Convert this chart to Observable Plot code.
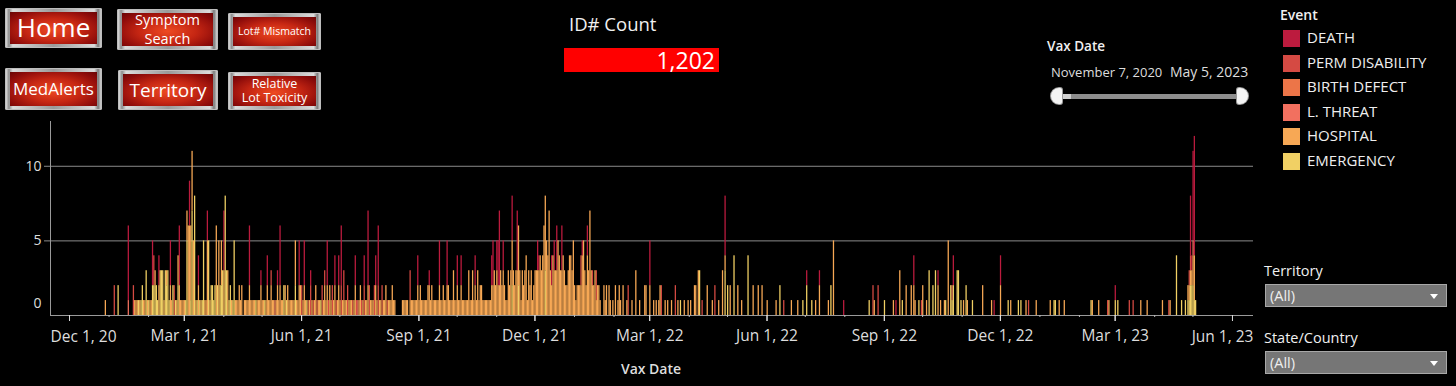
<!DOCTYPE html>
<html><head><meta charset="utf-8">
<script src="https://cdn.jsdelivr.net/npm/d3@7"></script>
<script src="https://cdn.jsdelivr.net/npm/@observablehq/plot@0.6"></script>
<style>
html,body{margin:0;padding:0;background:#000}
body{width:1456px;height:386px;overflow:hidden;font-family:"Open Sans",sans-serif;color:#eee}
#wrap{position:relative;width:1456px;height:386px}
#chart{position:absolute;left:0;top:0}
#chart svg{overflow:visible}
.t{position:absolute;white-space:nowrap}
.btn{position:absolute;box-sizing:border-box;padding:4px 5px;border-radius:2px;
 background:linear-gradient(90deg,#f6f6f6 0%,#8c8c8c 4%,#dcdcdc 8%,#9a9a9a 50%,#dcdcdc 92%,#7a7a7a 96%,#efefef 100%);
 box-shadow:inset 0 0 0 1px #bdbdbd}
.btn .in{width:100%;height:100%;box-sizing:border-box;display:flex;align-items:center;justify-content:center;text-align:center;color:#fff;line-height:1.3;
 background:radial-gradient(ellipse at 50% 55%,#ee4a22 0%,#c52613 45%,#8e0c0a 80%,#6a0606 100%);font-family:"Open Sans",sans-serif}
.sw{position:absolute;width:17px;height:17px}
.lg{position:absolute;font-size:15px;color:#eee;left:1307px;font-family:"Open Sans",sans-serif}
.dd{position:absolute;left:1265px;width:182px;height:23px;box-sizing:border-box;background:#767676;border:1px solid #a8a8a8;color:#eee;font-size:14.5px;line-height:21px;padding-left:4px}
.dd .ar{position:absolute;right:8px;top:9px;width:0;height:0;border-left:4px solid transparent;border-right:4px solid transparent;border-top:5px solid #fff}
</style>
</head><body><div id="wrap"></div>
<script>
// ---------- data ----------
// Day offsets are days after Dec 1, 2020; each pair is [day offset, number of reports].
const events = ["DEATH","PERM DISABILITY","BIRTH DEFECT","L. THREAT","HOSPITAL","EMERGENCY"];
const eventColors = ["#bc1b3e","#d54a43","#ec7548","#f2705f","#f7a855","#f1d064"];
const stackOrder = ["EMERGENCY","HOSPITAL","L. THREAT","BIRTH DEFECT","PERM DISABILITY","DEATH"];

const death = [[46,5],[65,3],[70,2],[79,3],[86,4],[94,3],[101,2],[108,2],[121,4],[141,4],[150,1],[155,2],[163,1],[165,4],[180,3],[184,3],[189,1],[202,3],[208,2],[211,2],[213,4],[224,2],[231,2],[234,5],[240,2],[242,4],[273,2],[282,1],[290,3],[296,3],[304,2],[307,2],[318,2],[331,2],[332,3],[335,2],[336,3],[337,5],[340,2],[347,3],[351,4],[367,2],[368,1],[378,2],[380,2],[382,3],[386,3],[402,1],[406,2],[455,3],[514,4],[578,1],[588,1],[607,1],[648,1],[662,2],[681,1],[693,2],[725,1],[730,2],[820,1],[879,4],[880,1],[881,6],[882,8]];

const permDisability = [[35,2],[50,2],[66,2],[82,2],[158,1],[182,2],[187,1],[189,2],[191,1],[194,1],[198,2],[200,1],[203,1],[206,2],[209,1],[213,2],[215,2],[218,2],[222,1],[225,1],[229,1],[231,2],[235,2],[239,2],[242,2],[245,2],[249,1],[267,2],[401,2],[410,1],[413,2],[438,2],[464,2],[475,2],[496,1],[506,2],[560,1],[630,2],[634,2],[668,1],[692,1],[752,1],[814,1],[831,1],[834,1],[862,1],[878,1],[879,1]];

const birthDefect = [];

const lifeThreat = [[46,1],[161,1],[226,1],[881,1]];

const hospital = [[28,1],[51,1],[52,1],[53,1],[55,1],[58,1],[59,1],[61,1],[63,1],[64,1],[67,1],[70,2],[74,1],[76,1],[79,2],[80,1],[84,1],[85,2],[86,2],[87,1],[88,1],[89,1],[90,1],[92,2],[93,6],[94,6],[95,5],[96,4],[97,5],[99,1],[101,2],[103,1],[106,1],[107,1],[108,5],[110,1],[115,6],[117,5],[119,3],[121,3],[124,3],[127,1],[130,1],[131,1],[132,1],[133,2],[134,1],[135,2],
[137,1],[138,1],[139,1],[140,1],[141,2],[142,1],[143,1],[144,1],[145,1],[147,1],[148,1],[149,1],[150,2],[151,1],[152,1],[154,1],[155,2],[156,1],[157,1],[158,2],[159,1],[160,1],[162,1],[163,2],[164,1],[165,2],[166,1],[167,1],[169,2],[171,2],[172,1],[173,1],[174,1],[175,1],[176,1],[177,3],[178,1],[179,1],[180,2],[181,2],[183,1],[184,2],[185,1],[188,1],[190,1],[192,1],[193,2],[195,1],[196,1],[199,1],[200,2],[201,1],[202,2],[204,2],[205,1],[207,1],[208,2],[210,1],[211,2],[212,1],[214,1],[215,1],[216,1],[217,1],[219,1],[220,1],[221,1],[223,1],[224,2],[227,1],[228,2],[230,1],[232,1],[233,1],[234,2],[236,1],[237,1],[238,1],[240,2],[241,1],[243,1],[244,1],[246,1],[247,1],[248,2],[250,1],[251,1],[252,1],[253,2],[254,1],[255,1],
[261,1],[262,1],[263,1],[264,1],[265,1],[267,1],[268,1],[269,1],[270,1],[271,1],[272,1],[273,2],[274,1],[275,2],[276,1],[277,1],[278,1],[279,1],[280,1],[281,2],[282,2],[283,1],[284,2],[285,1],[286,1],[287,1],[288,1],[289,1],[290,2],[291,1],[292,1],[293,2],[294,1],[295,1],[296,2],[297,2],[298,1],[299,1],[300,1],[301,3],[302,1],[303,1],[304,2],[305,1],[306,1],[307,2],[308,1],[309,1],[310,1],[311,1],[312,1],[313,3],[314,1],[315,1],[316,3],[317,1],[318,2],[319,1],[320,3],[321,1],[322,2],[323,2],[324,1],[325,1],[326,1],[327,1],[328,1],[329,1],[330,1],
[331,2],[332,2],[333,3],[334,2],[335,3],[336,2],[337,2],[338,3],[339,2],[340,3],[341,2],[342,1],[343,1],[344,3],[345,2],[346,3],[347,3],[348,3],[349,2],[350,3],[351,3],[352,4],[353,3],[354,1],[355,3],[356,2],[357,3],[358,4],[359,1],[360,3],[361,2],[362,3],[363,1],[364,2],[365,3],[366,3],[367,3],[368,3],[369,4],[370,3],[371,4],[372,6],[373,5],[374,5],[375,4],[376,7],[377,3],[378,2],[379,4],[380,3],[381,3],[382,3],[383,5],[384,4],[385,3],[386,3],[387,4],[388,3],[389,2],[390,2],[391,3],[392,4],[393,4],[394,3],[395,5],[396,2],[397,1],[398,2],[399,2],[400,2],[401,2],[402,4],[403,5],[404,3],[405,2],[406,4],[407,3],[408,7],[409,3],[410,2],[411,2],[412,3],[413,1],[414,2],[415,2],[416,1],
[419,2],[420,1],[421,2],[423,2],[424,1],[426,1],[428,2],[430,1],[431,2],[432,1],[434,2],[437,1],[441,1],[444,3],[447,1],[451,2],[452,2],[455,2],[458,1],[460,1],[462,1],[463,2],[467,1],[469,1],[472,1],[477,1],[482,1],[485,1],[487,1],[490,2],[491,2],[493,3],[500,2],[504,1],[509,1],[512,3],[514,1],[518,2],[524,2],[527,1],[536,2],[540,2],[543,2],[547,1],[554,1],[566,1],[571,1],
[585,1],[588,2],[595,1],[599,5],[631,1],[646,1],[651,3],[656,2],[660,2],[662,2],[663,1],[669,2],[672,1],[681,2],[683,1],[686,1],[689,5],[701,1],[704,1],[716,2],[723,1],[730,2],[738,1],[750,1],[758,1],[769,1],[776,1],[780,1],[802,1],[807,1],[815,1],[840,1],[845,1],[857,1],[863,1],[877,1],[878,1],[879,1],[880,1],[881,2],[882,3]];

const emergency = [[38,2],[54,1],[56,1],[57,2],[60,3],[62,1],[65,2],[66,2],[67,2],[68,2],[69,1],[71,3],[72,3],[73,3],[75,3],[76,2],[77,3],[78,1],[81,2],[83,1],[85,2],[91,1],[92,5],[95,1],[96,7],[98,8],[100,1],[102,1],[104,1],[105,5],[109,5],[111,2],[112,2],[113,1],[114,2],[116,2],[118,2],[119,2],[120,3],[122,8],[123,3],[125,1],[126,2],[128,1],[129,5],[146,1],[153,1],[168,2],[170,1],[177,2],[186,1],[197,1],[347,2],[352,2],[373,3],[479,1],[494,3],[514,3],[516,2],[521,4],[532,4],[557,2],[575,1],[578,2],[582,1],[597,2],[627,1],[639,1],[653,1],[666,1],[674,3],[677,2],[679,3],[687,1],[691,2],[692,1],[693,2],[696,3],[697,3],[699,1],[703,2],[708,1],[736,1],[744,1],[746,1],[772,1],[773,1],[801,1],[820,1],[822,1],[868,4],[872,1],[875,1],[877,1],[878,1],[879,2],[880,2],[881,2],[882,1],[883,1]];

const yTicks = [5, 10];
const majorTickDates = ["2020-12-01","2021-03-01","2021-06-01","2021-09-01","2021-12-01","2022-03-01","2022-06-01","2022-09-01","2022-12-01","2023-03-01","2023-06-01"];
const majorTickLabels = ["Dec 1, 20","Mar 1, 21","Jun 1, 21","Sep 1, 21","Dec 1, 21","Mar 1, 22","Jun 1, 22","Sep 1, 22","Dec 1, 22","Mar 1, 23","Jun 1, 23"];
const idCount = "1,202";

// ---------- build table ----------
const DAY = 864e5;
const origin = Date.UTC(2020, 11, 1);
const seriesByEvent = {"DEATH": death, "PERM DISABILITY": permDisability, "BIRTH DEFECT": birthDefect, "L. THREAT": lifeThreat, "HOSPITAL": hospital, "EMERGENCY": emergency};
const rows = [];
for (const ev of events) for (const [d, n] of seriesByEvent[ev]) rows.push({event: ev, d1: new Date(origin + d * DAY), d2: new Date(origin + (d + 1) * DAY), count: n});

const majors = majorTickDates.map(s => new Date(s + "T00:00:00Z"));
const labelOf = new Map(majors.map((d, i) => [+d, majorTickLabels[i]]));
const minors = d3.utcMonths(new Date("2020-12-01T00:00:00Z"), new Date("2023-06-02T00:00:00Z")).filter(d => !labelOf.has(+d));
const xDomain = [new Date(Date.UTC(2020, 10, 16, 2)), new Date(Date.UTC(2023, 5, 17, 12))];
const tickFont = 15.5;
const firstTick = majors[0], lastTick = majors[majors.length - 1];

const chart = Plot.plot({
  width: 1260, height: 386,
  marginLeft: 50, marginRight: 7, marginTop: 121, marginBottom: 71,
  style: {background: "transparent", color: "#ddd", fontFamily: "Open Sans, sans-serif", fontSize: "13px"},
  x: {type: "utc", domain: xDomain, label: null},
  y: {domain: [0, 13], label: null},
  color: {domain: events, range: eventColors},
  marks: [
    Plot.gridY(yTicks, {stroke: "#8a8a8a", strokeOpacity: 1}),
    Plot.rectY(rows, {x1: "d1", x2: "d2", y: "count", fill: "event", order: stackOrder}),
    Plot.ruleY([0], {stroke: "#9a9a9a"}),
    Plot.ruleX([xDomain[0]], {stroke: "#9a9a9a"}),
    Plot.axisX(majors, {tickSize: 6, stroke: "#e0e0e0", label: null, tickFormat: () => ""}),
    Plot.axisX(majors.slice(1, -1), {tickSize: 6, tickPadding: 8, stroke: "#e0e0e0", fill: "#dddddd", fontSize: tickFont, label: null, tickFormat: d => labelOf.get(+d)}),
    Plot.text([firstTick], {x: d => d, y: 0, text: d => labelOf.get(+d), textAnchor: "start", lineAnchor: "top", dx: -19, dy: 15, fill: "#dddddd", fontSize: tickFont}),
    Plot.text([lastTick], {x: d => d, y: 0, text: d => labelOf.get(+d), textAnchor: "end", lineAnchor: "top", dx: 21, dy: 15, fill: "#dddddd", fontSize: tickFont}),
    Plot.axisX(minors, {tickSize: 2, stroke: "#bbbbbb", label: null, tickFormat: () => ""}),
    Plot.axisY(yTicks, {tickSize: 6, tickPadding: 3, stroke: "#8a8a8a", fill: "#dddddd", fontSize: 14, label: null}),
    Plot.axisY([0], {tickSize: 0, tickPadding: 9, dy: -12, fill: "#dddddd", fontSize: 14, label: null})
  ]
});

const wrap = document.getElementById("wrap");
const holder = document.createElement("div");
holder.id = "chart";
holder.appendChild(chart);
wrap.appendChild(holder);

function addText(txt, css) {
  const el = document.createElement("div");
  el.className = "t";
  el.textContent = txt;
  Object.assign(el.style, css);
  wrap.appendChild(el);
  return el;
}

// axis title
addText("Vax Date", {left: "651px", top: "359px", transform: "translateX(-50%)", fontSize: "14px", fontWeight: "600", color: "#dddddd"});

// buttons
const buttons = [
  {lines: ["Home"], x: 5, y: 8, w: 97, h: 40, fs: 26},
  {lines: ["Symptom", "Search"], x: 117, y: 9, w: 101, h: 41, fs: 14.5},
  {lines: ["Lot# Mismatch"], x: 228, y: 13, w: 93, h: 37, fs: 10.5},
  {lines: ["MedAlerts"], x: 5, y: 68, w: 97, h: 42, fs: 17},
  {lines: ["Territory"], x: 118, y: 70, w: 100, h: 40, fs: 19},
  {lines: ["Relative", "Lot Toxicity"], x: 228, y: 72, w: 93, h: 38, fs: 12.5}
];
for (const b of buttons) {
  const el = document.createElement("div");
  el.className = "btn";
  Object.assign(el.style, {left: b.x + "px", top: b.y + "px", width: b.w + "px", height: b.h + "px"});
  const inner = document.createElement("div");
  inner.className = "in";
  inner.style.fontSize = b.fs + "px";
  if (b.lines.length > 1) inner.style.lineHeight = b.fs > 13 ? "1.3" : "1.15";
  inner.innerHTML = b.lines.join("<br>");
  el.appendChild(inner);
  wrap.appendChild(el);
}

// ID# Count
addText("ID# Count", {left: "569px", top: "11px", fontSize: "18.5px", color: "#f0f0f0"});
const box = document.createElement("div");
Object.assign(box.style, {position: "absolute", left: "564px", top: "48px", width: "155px", height: "24px", background: "#ff0000"});
wrap.appendChild(box);
addText(idCount, {left: "564px", top: "44px", width: "151px", textAlign: "right", fontSize: "23px", color: "#ffffff"});

// Vax Date slider
addText("Vax Date", {left: "1047px", top: "37px", fontSize: "13.5px", fontWeight: "600", color: "#f0f0f0"});
addText("November 7, 2020", {left: "1051px", top: "63px", fontSize: "13px", color: "#dddddd"});
addText("May 5, 2023", {left: "1170px", top: "62px", fontSize: "14px", color: "#dddddd"});
const track = document.createElement("div");
Object.assign(track.style, {position: "absolute", left: "1058px", top: "94px", width: "183px", height: "5px", background: "#8e8e8e"});
wrap.appendChild(track);
const seg = document.createElement("div");
Object.assign(seg.style, {position: "absolute", left: "1062px", top: "94px", width: "9px", height: "5px", background: "#cfcfcf"});
wrap.appendChild(seg);
for (const [x, r] of [[1051, "8px 2px 2px 8px"], [1237, "2px 8px 8px 2px"]]) {
  const h = document.createElement("div");
  Object.assign(h.style, {position: "absolute", left: x + "px", top: "88px", width: "11px", height: "16px", background: "#f4f4f4", borderRadius: r, boxShadow: "0 0 0 1px #999"});
  wrap.appendChild(h);
}

// legend
addText("Event", {left: "1280px", top: "5px", fontSize: "14px", fontWeight: "600", color: "#f0f0f0"});
events.forEach((ev, i) => {
  const top = 30 + i * 24.5;
  const sw = document.createElement("div");
  sw.className = "sw";
  Object.assign(sw.style, {left: "1283px", top: top + "px", background: eventColors[i]});
  wrap.appendChild(sw);
  const lab = document.createElement("div");
  lab.className = "lg";
  lab.style.top = (top - 3) + "px";
  lab.textContent = ev;
  wrap.appendChild(lab);
});

// filters
for (const [label, ly, dy] of [["Territory", 261, 284], ["State/Country", 328, 351]]) {
  addText(label, {left: "1264px", top: ly + "px", fontSize: "14.5px", color: "#f0f0f0"});
  const dd = document.createElement("div");
  dd.className = "dd";
  dd.style.top = dy + "px";
  dd.innerHTML = '(All)<span class="ar"></span>';
  wrap.appendChild(dd);
}
</script>
</body></html>
